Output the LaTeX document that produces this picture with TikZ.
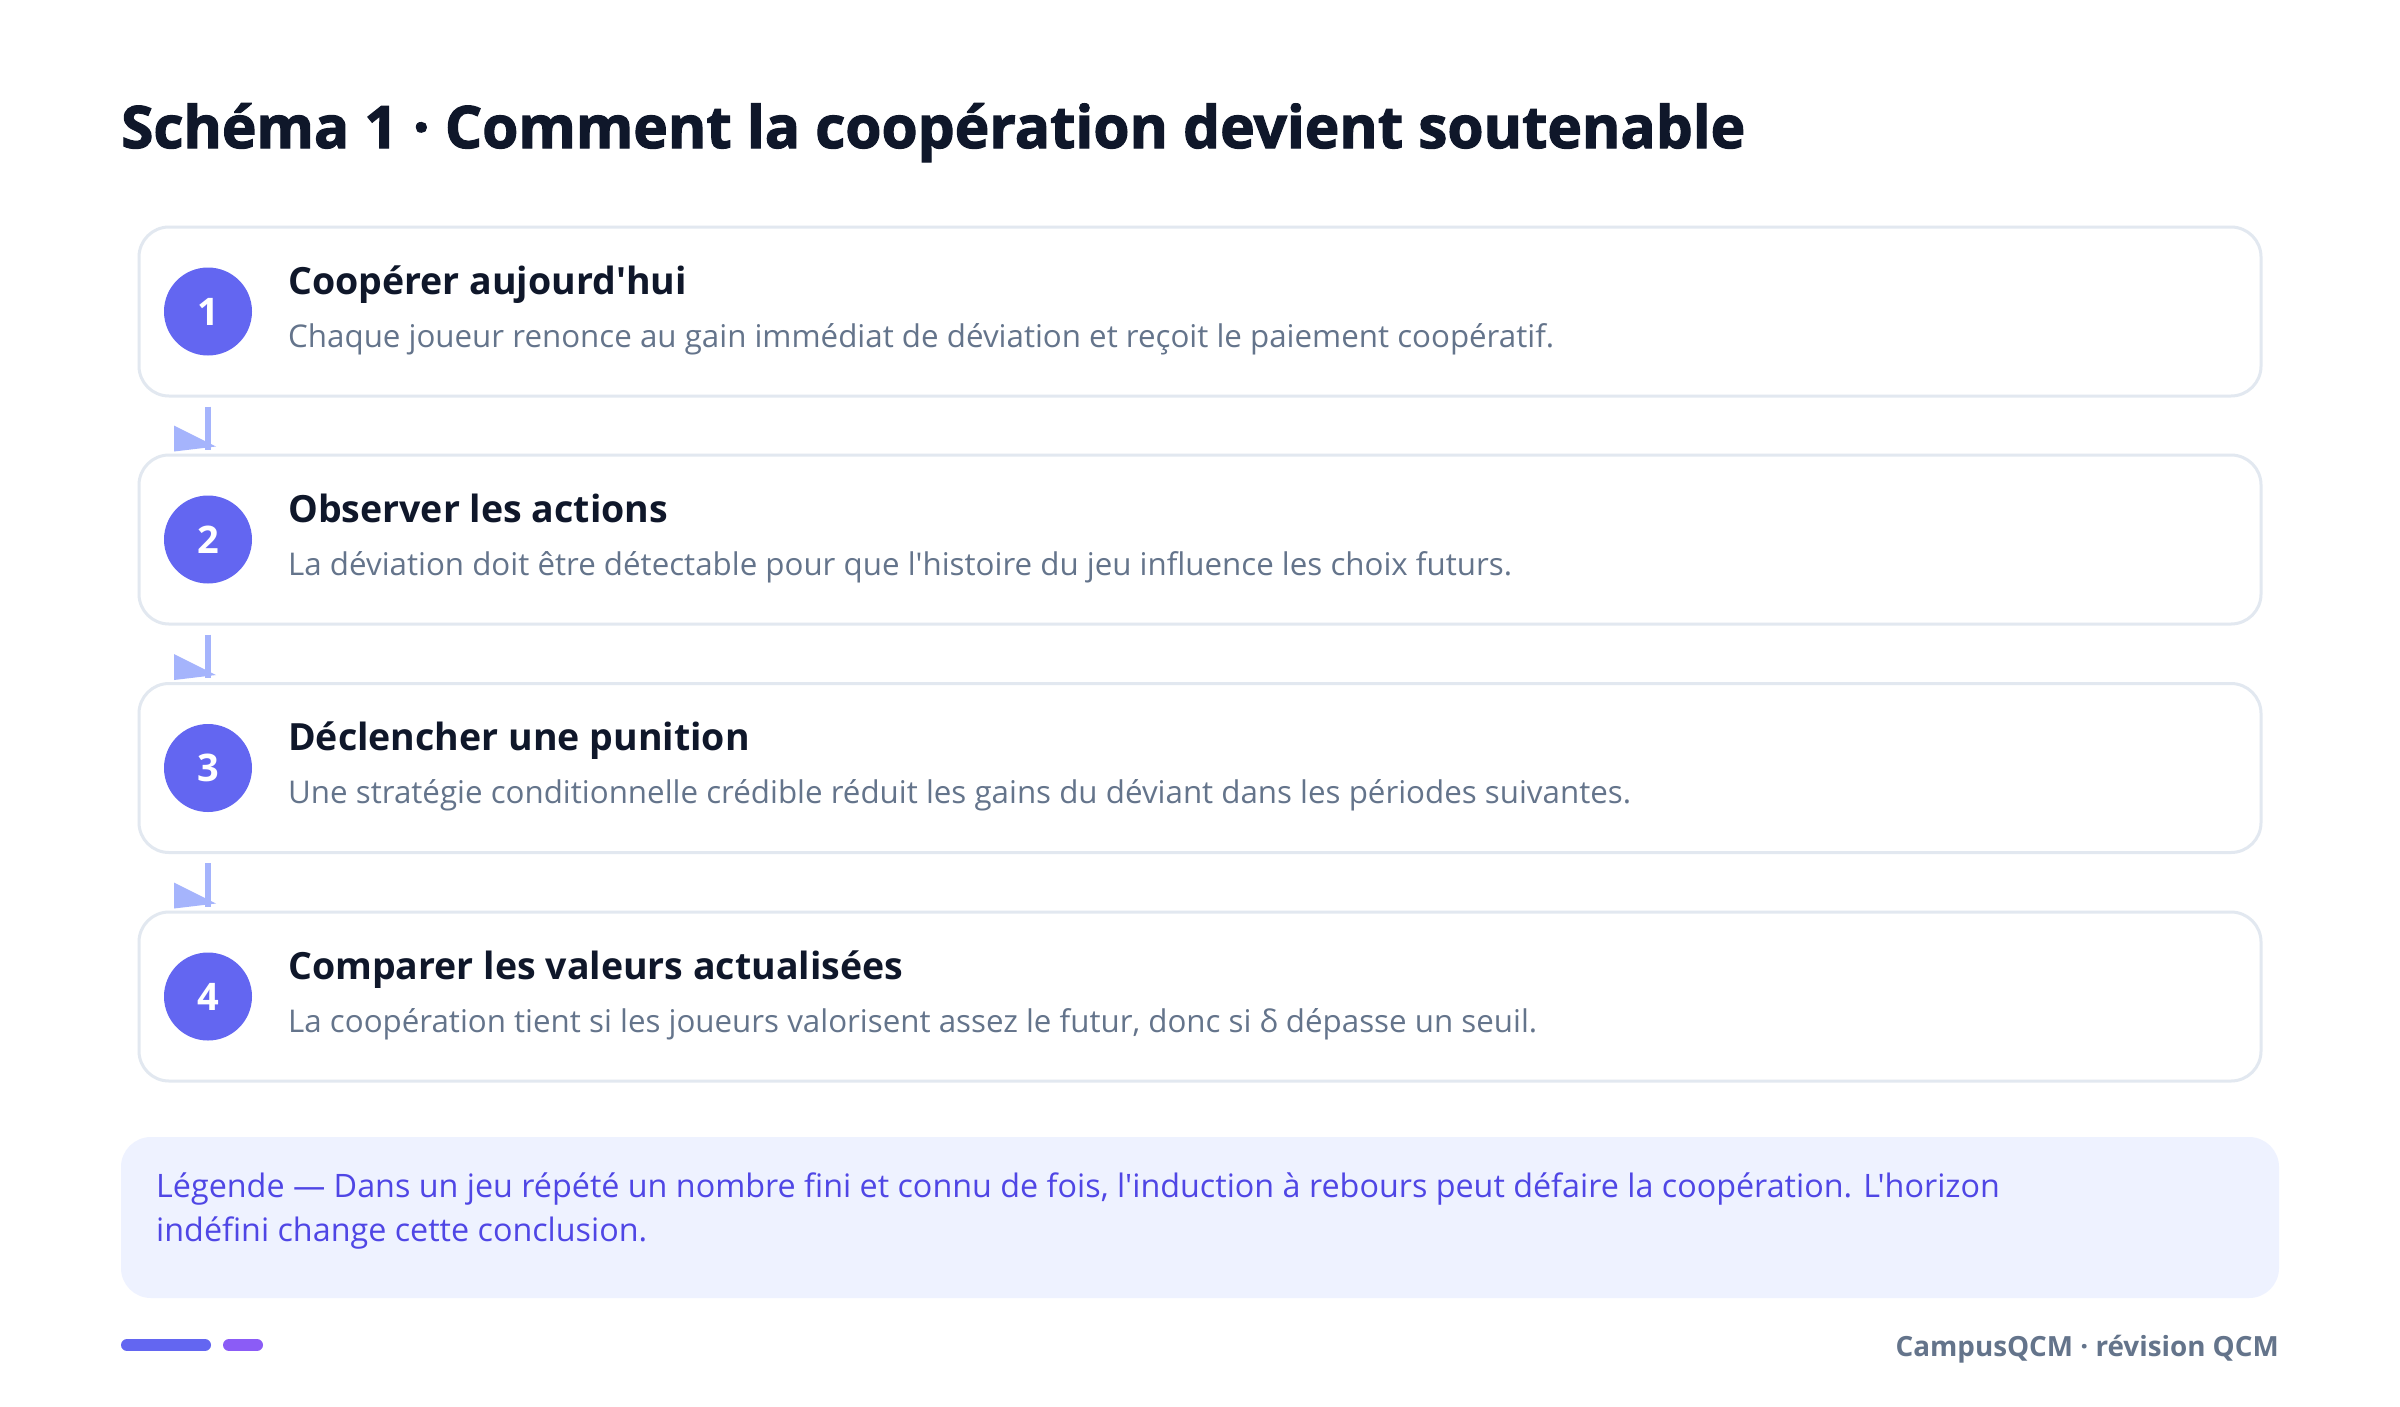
\documentclass[tikz,border=0pt]{standalone}
\usepackage{fontspec}
\setmainfont{Open Sans}[Ligatures=TeXOff]
\newfontfamily\titlefont{Open Sans}[Ligatures=TeXOff,BoldFeatures={FakeBold=2}]
\usetikzlibrary{calc}
\definecolor{ink}{HTML}{0F172A}
\definecolor{slate}{HTML}{64748B}
\definecolor{indigo}{HTML}{6366F1}
\definecolor{arrowc}{HTML}{A5B4FC}
\definecolor{legfill}{HTML}{EEF2FF}
\definecolor{legtext}{HTML}{4F46E5}
\definecolor{bordc}{HTML}{E2E8F0}
\definecolor{violet}{HTML}{8B5CF6}
\begin{document}
\begin{tikzpicture}[x=1pt,y=-1pt,
  stepbox/.style={draw=bordc,line width=3pt,fill=white,rounded corners=30pt,minimum width=2122pt,minimum height=169pt,inner sep=0pt},
  numcirc/.style={circle,fill=indigo,minimum size=88pt,inner sep=0pt,text=white,font=\fontsize{38}{42}\selectfont\bfseries},
  headtxt/.style={anchor=base west,inner sep=0pt,text=ink,font=\fontsize{37.5}{42}\selectfont\bfseries},
  subtxt/.style={anchor=base west,inner sep=0pt,text=slate,font=\fontsize{31.3}{36}\selectfont},
  conn/.style={draw=arrowc,line width=6pt},
  tipfill/.style={fill=arrowc}
]
\useasboundingbox (0,0) rectangle (2400,1406);
\fill[white] (0,0) rectangle (2400,1406);
% title
\node[anchor=base west,inner sep=0pt,text=ink,font=\fontsize{58.5}{66}\selectfont\titlefont\bfseries] (title) at (121,148) {Schéma 1 · Comment la coopération devient soutenable};
% steps
\node[stepbox] (b1) at (1200,311.5) {};
\node[stepbox] (b2) at (1200,539.5) {};
\node[stepbox] (b3) at (1200,768) {};
\node[stepbox] (b4) at (1200,996.5) {};
\node[numcirc] (c1) at (208,311.5) {1};
\node[numcirc] (c2) at (208,539.5) {2};
\node[numcirc] (c3) at (208,768) {3};
\node[numcirc] (c4) at (208,996.5) {4};
\node[headtxt] (h1) at (288,294) {Coopérer aujourd'hui};
\node[subtxt] (s1) at (288,347) {Chaque joueur renonce au gain immédiat de déviation et reçoit le paiement coopératif.};
\node[headtxt] (h2) at (288,522) {Observer les actions};
\node[subtxt] (s2) at (288,575) {La déviation doit être détectable pour que l'histoire du jeu influence les choix futurs.};
\node[headtxt] (h3) at (288,750.5) {Déclencher une punition};
\node[subtxt] (s3) at (288,803.5) {Une stratégie conditionnelle crédible réduit les gains du déviant dans les périodes suivantes.};
\node[headtxt] (h4) at (288,979) {Comparer les valeurs actualisées};
\node[subtxt] (s4) at (288,1032) {La coopération tient si les joueurs valorisent assez le futur, donc si δ dépasse un seuil.};
% connectors
\foreach \a/\b/\n in {b1/b2/1,b2/b3/2,b3/b4/3}{
  \coordinate (st\n) at ($(\a.south -| c\n)+(0,9)$);
  \coordinate (en\n) at ($(\b.north -| c\n)+(0,-4)$);
  \draw[conn] (st\n) -- (en\n);
  \fill[tipfill] (en\n) ++(-34,-24) -- ++(0,26) -- ++(42,-5) -- cycle;
}
% legend
\node[fill=legfill,rounded corners=30pt,minimum width=2158pt,minimum height=161pt,inner sep=0pt] (leg) at (1200,1217.5) {};
\node[anchor=base west,inner sep=0pt,text=legtext,font=\fontsize{32.3}{44}\selectfont,align=left] (legt) at (156,1241) {Légende — Dans un jeu répété un nombre fini et connu de fois, l'induction à rebours peut défaire la coopération. L'horizon\\indéfini change cette conclusion.};
% footer
\draw[indigo,line width=12pt,line cap=round] (127,1345) coordinate (f1a) -- (205,1345) coordinate (f1b);
\draw[violet,line width=12pt,line cap=round] (229,1345) coordinate (f2a) -- (257,1345) coordinate (f2b);
\node[anchor=base east,inner sep=0pt,text=slate,font=\fontsize{27.8}{32}\selectfont\bfseries] (foot) at (2279,1356) {CampusQCM · révision QCM};
\end{tikzpicture}
\end{document}
